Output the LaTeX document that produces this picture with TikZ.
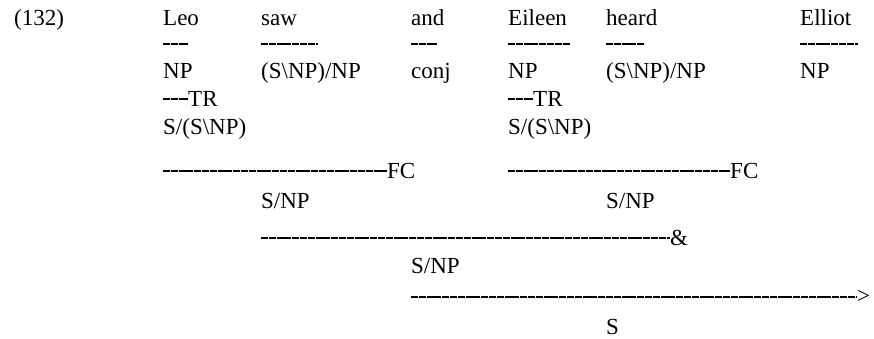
\documentclass[tikz,border=0pt]{standalone}
\usepackage{fontspec}
\setmainfont{Liberation Serif}
\begin{document}
\begin{tikzpicture}[x=1pt,y=-1pt,
    cat/.style={anchor=base west,inner sep=0pt,font=\fontsize{23}{27}\selectfont},
    rulelabel/.style={anchor=west,inner sep=0pt,font=\fontsize{23}{27}\selectfont},
    derive/.style={line width=1.5pt,dash pattern=on 7pt off 0.8pt}]
    \useasboundingbox (0,0) rectangle (874,339);

    % Example number and words
    \node[cat] (num) at (14,26) {(132)};
    \node[cat] (leo) at (163,26) {Leo};
    \node[cat] (saw) at (261,26) {saw};
    \node[cat] (and) at (411,26) {and};
    \node[cat] (eileen) at (508,26) {Eileen};
    \node[cat] (heard) at (606,26) {heard};
    \node[cat] (elliot) at (800,26) {Elliot};

    % Lexical rules
    \draw[derive] (leo.west |- 0,44) -- ++(25,0);
    \draw[derive] (saw.west |- 0,44) -- ++(57,0);
    \draw[derive] (and.west |- 0,44) -- ++(26,0);
    \draw[derive] (eileen.west |- 0,44) -- ++(62,0);
    \draw[derive] (heard.west |- 0,44) -- ++(39,0);
    \draw[derive] (elliot.west |- 0,44) -- ++(58,0);

    % Lexical categories
    \node[cat] (npA) at (163,79) {NP};
    \node[cat] (tvA) at (261,79) {(S\textbackslash NP)/NP};
    \node[cat] (conj) at (411,79) {conj};
    \node[cat] (npB) at (508,79) {NP};
    \node[cat] (tvB) at (606,79) {(S\textbackslash NP)/NP};
    \node[cat] (npC) at (800,79) {NP};

    % Type raising
    \node[rulelabel] (trA) at (188,99) {TR};
    \node[rulelabel] (trB) at (533,99) {TR};
    \draw[derive] (npA.west |- trA.west) -- (trA.west);
    \draw[derive] (npB.west |- trB.west) -- (trB.west);
    \node[cat] (typeA) at (163,135) {S/(S\textbackslash NP)};
    \node[cat] (typeB) at (508,135) {S/(S\textbackslash NP)};

    % Forward composition
    \node[rulelabel] (fcA) at (387,171) {FC};
    \node[rulelabel] (fcB) at (730,171) {FC};
    \draw[derive] (typeA.west |- fcA.west) -- (fcA.west);
    \draw[derive] (typeB.west |- fcB.west) -- (fcB.west);
    \node[cat] (snpA) at (261,208) {S/NP};
    \node[cat] (snpB) at (606,208) {S/NP};

    % Coordination
    \node[rulelabel] (amp) at (670,238) {\&};
    \draw[derive] (snpA.west |- amp.west) -- (amp.west);
    \node[cat] (snpC) at (411,273) {S/NP};

    % Forward application
    \node[rulelabel] (app) at (857,297) {>};
    \draw[derive] (snpC.west |- app.west) -- (app.west);
    \node[cat] (s) at (606,334) {S};

\end{tikzpicture}
\end{document}
